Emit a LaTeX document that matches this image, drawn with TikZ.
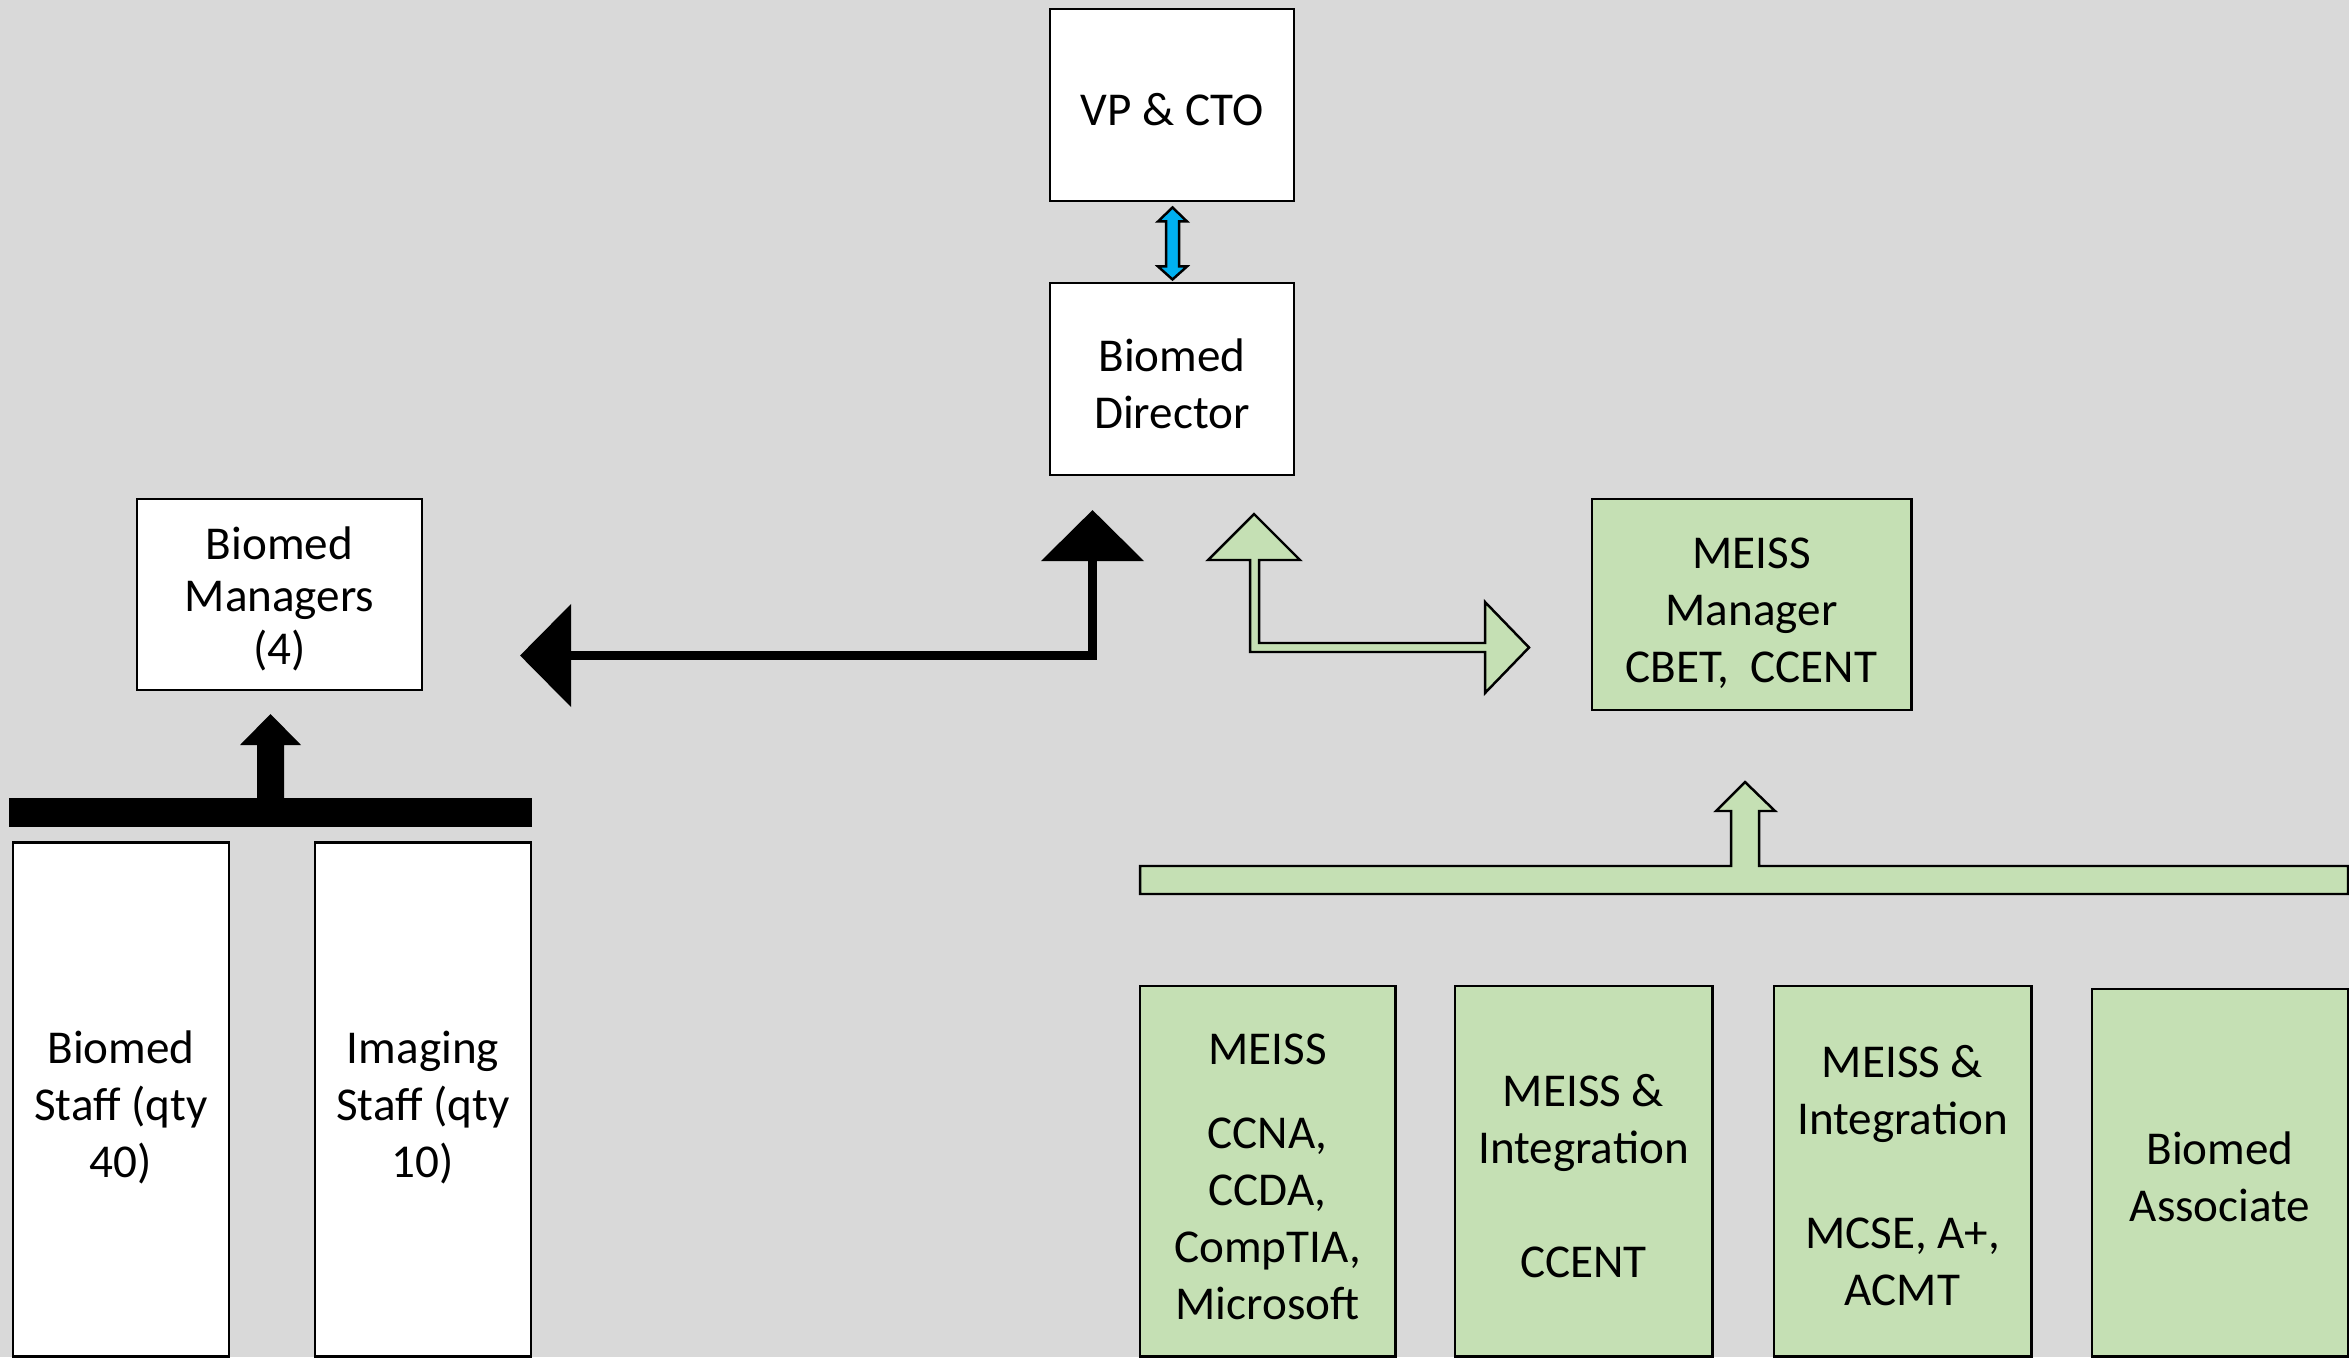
\documentclass[tikz,border=0pt]{standalone}
\usepackage{fontspec}
\setmainfont{Carlito}
\usetikzlibrary{arrows.meta,calc}
\definecolor{hgrau}{HTML}{D9D9D9}
\definecolor{hgruen}{HTML}{C5E0B4}
\definecolor{hblau}{HTML}{00B0F0}
\newcommand{\hoch}[1][11.8pt]{\rule{0pt}{#1}}

\begin{document}
\begin{tikzpicture}[x=0.01cm, y=-0.01cm,
    kasten/.style={draw=black, line width=0.8pt, fill=white, align=center, inner sep=0pt,
      font=\fontsize{13.4}{16.2}\selectfont},
    gruenkasten/.style={kasten, fill=hgruen},
    pfeil/.style={draw=black, line width=0.7pt, line join=miter},
    verbinder/.style={line width=0.09cm, line join=miter,
      {Triangle[length=0.51cm,width=1.01cm]}-{Triangle[length=0.51cm,width=1.01cm]}}]
	% Hintergrund
    \fill[hgrau] (0,0) rectangle (2349,1357);
    \useasboundingbox (0,0) rectangle (2349,1357);
    % Leitung
    \node[kasten, minimum width=2.44cm, minimum height=1.92cm] (vp) at (1172,105) {\hoch VP \& CTO};
    \node[kasten, minimum width=2.44cm, minimum height=1.92cm] (dir) at (1172,379) {\hoch Biomed\\Director};
    \node[kasten, minimum width=2.85cm, minimum height=1.91cm,
      font=\fontsize{13.4}{14.8}\selectfont] (mgr) at (279.5,594.5) {\hoch Biomed\\Managers\\(4)};
    \node[gruenkasten, minimum width=3.19cm, minimum height=2.11cm] (meissmgr) at (1751.5,604.5) {\hoch[13.6pt]MEISS\\Manager\\CBET,\ \ CCENT};
    % Mitarbeiter
    \node[kasten, minimum width=2.16cm, minimum height=5.13cm] (biostaff) at (121,1099.5) {\hoch[13.6pt]Biomed\\Staff (qty\\40)};
    \node[kasten, minimum width=2.16cm, minimum height=5.13cm] (imgstaff) at (423,1099.5) {\hoch[13.6pt]Imaging\\Staff (qty\\10)};
    \node[gruenkasten, minimum width=2.55cm, minimum height=3.70cm] (meiss) at (1267.5,1171) {\hoch[12pt]MEISS\\[0.27cm]CCNA,\\CCDA,\\CompTIA,\\Microsoft};
    \node[gruenkasten, minimum width=2.57cm, minimum height=3.70cm] (integ) at (1583.5,1171) {\hoch[12pt]MEISS \&\\Integration\\[0.57cm]CCENT};
    \node[gruenkasten, minimum width=2.57cm, minimum height=3.70cm] (mcse) at (1902.5,1171) {\hoch[12pt]MEISS \&\\Integration\\[0.57cm]MCSE, A+,\\ACMT};
    \node[gruenkasten, minimum width=2.56cm, minimum height=3.67cm] (assoc) at (2220,1172.5) {\hoch Biomed\\Associate};
    % Doppelpfeil VP - Director
    \draw[pfeil, fill=hblau] ($(vp.south)+(0.5,5)$) -- ++(14.5,14) -- ++(-8,0) -- ++(0,45) -- ++(8,0)
      -- ++(-14.5,13) -- ++(-14.5,-13) -- ++(8,0) -- ++(0,-45) -- ++(-8,0) -- cycle;
    % Verbindung Managers - Director
    \coordinate (spitzeL) at (520,655.5);
    \coordinate (eck) at (1092.5,655.5);
    \coordinate (spitzeO) at (1092.5,510);
    \draw[verbinder] (spitzeL) -- (eck) -- (spitzeO);
    % Verbindung Director - MEISS Manager
    \draw[pfeil, fill=hgruen] (1254,514) -- (1300,560) -- (1259,560) -- (1259,643) -- (1485,643)
      -- (1485,602) -- (1529,647.5) -- (1485,693) -- (1485,652) -- (1250,652) -- (1250,560)
      -- (1208,560) -- cycle;
    % Sammelbalken links
    \fill (9,798) rectangle (532,827);
    \fill (257,799) -- (257,745) -- (240,745) -- (270.5,714) -- (301,745) -- (284,745) -- (284,799) -- cycle;
    % Sammelbalken rechts
    \draw[pfeil, fill=hgruen] (1140,866) -- (1731,866) -- (1731,811) -- (1716,811) -- (1745,782)
      -- (1775,811) -- (1759,811) -- (1759,866) -- (2348,866) -- (2348,894) -- (1140,894) -- cycle;
\end{tikzpicture}
\end{document}
